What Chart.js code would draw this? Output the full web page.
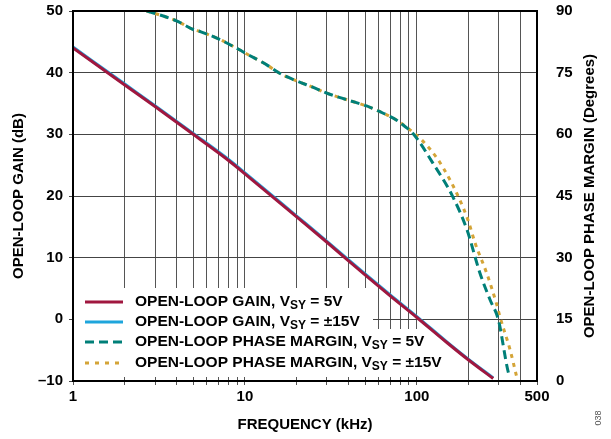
<!DOCTYPE html>
<html>
<head>
<meta charset="utf-8">
<script src="https://cdn.jsdelivr.net/npm/chart.js"></script>
<style>
  html, body { margin: 0; padding: 0; background: #fff; }
  #wrap { width: 611px; height: 439px; }
</style>
</head>
<body>
<div id="wrap"><canvas id="chart" width="611" height="439"></canvas></div>
<script>
// ------------------------------------------------------------
// data (frequency in kHz)
// ------------------------------------------------------------
const gainFreq = [1, 2, 3, 5, 8, 10, 20, 30, 50, 70, 100, 150, 200, 278];
const gain5V   = [44, 38, 34.5, 30, 25.8, 23.6, 16.6, 12.5, 7.2, 3.8, 0.3, -3.8, -6.6, -9.6];
const gain15V  = [44.15, 38.15, 34.65, 30.15, 25.95, 23.75, 16.75, 12.65, 7.35, 3.95, 0.45, -3.7, -6.5, -9.5];

const phase5VFreq = [2.68, 3, 4, 5, 5.5, 7.2, 8.2, 9.35, 10, 13.4, 16, 20, 25, 30, 40, 51, 61, 76, 83, 95,
                     124, 162, 196, 233, 267, 298, 341, 349];
const phase5V     = [90, 89.4, 87.6, 85.5, 85, 83, 81.8, 80.5, 79.8, 76.9, 74.8, 73, 71.4, 70, 68.3, 66.9, 65.5, 63.5, 62.3, 60.2,
                     53, 44.8, 36.7, 26.2, 19.7, 14.9, 2.0, 1.0];
const phase15VFreq = [2.68, 3, 4, 5, 5.5, 7.2, 8.2, 9.35, 10, 13.4, 16, 20, 25, 30, 40, 51, 61, 76, 83, 95,
                      107, 131, 156, 178, 199, 218, 255, 292, 305, 349, 381];
const phase15V     = [90, 89.4, 87.6, 85.5, 85, 83, 81.8, 80.5, 79.8, 76.9, 74.8, 73, 71.4, 70, 68.3, 66.9, 65.5, 63.5, 62.4, 60.5,
                      58.6, 54.2, 48.9, 44, 39, 33.6, 26.2, 18.5, 15.5, 7.5, 1.0];

const xTickValues = [1, 2, 3, 4, 5, 6, 7, 8, 9, 10, 20, 30, 40, 50, 60, 70, 80, 90, 100, 200, 300, 400, 500];
const xTickLabels = { 1: '1', 10: '10', 100: '100', 500: '500' };
const legendLabels = [
    ['OPEN-LOOP GAIN, V', 'SY', ' = 5V'],
    ['OPEN-LOOP GAIN, V', 'SY', ' = \u00b115V'],
    ['OPEN-LOOP PHASE MARGIN, V', 'SY', ' = 5V'],
    ['OPEN-LOOP PHASE MARGIN, V', 'SY', ' = \u00b115V']
];

const RED = '#a0173f';
const BLUE = '#1ea5dc';
const TEAL = '#007f78';
const GOLD = '#d4a437';
const FONT = "'Liberation Sans', Arial, sans-serif";

const pts = (xs, ys) => xs.map((x, i) => ({ x: x, y: ys[i] }));
const noVPad = scale => { scale.paddingTop = 0; scale.paddingBottom = 0; };

// white area behind the legend, then the legend itself
const legendPlugin = {
    id: 'legendBox',
    beforeDatasetsDraw(chart) {
        const { ctx, chartArea: a } = chart;
        ctx.save();
        ctx.fillStyle = '#fff';
        ctx.fillRect(a.left + 1, 288, 372 - a.left, a.bottom - 288 - 4);
        ctx.fillRect(a.left + 1, 329, 445 - a.left, a.bottom - 329 - 4);
        ctx.restore();
    },
    afterDraw(chart) {
        const { ctx, chartArea: a } = chart;
        const styles = [
            { color: RED, dash: [] },
            { color: BLUE, dash: [] },
            { color: TEAL, dash: [9, 5] },
            { color: GOLD, dash: [4, 6] }
        ];
        const rowY = [302, 322, 342, 363];
        ctx.save();
        // frame of plot area
        ctx.strokeStyle = '#000';
        ctx.lineWidth = 2;
        ctx.strokeRect(a.left, a.top, a.right - a.left, a.bottom - a.top);

        legendLabels.forEach((parts, i) => {
            const y = rowY[i];
            ctx.setLineDash(styles[i].dash);
            ctx.strokeStyle = styles[i].color;
            ctx.lineWidth = 3;
            ctx.beginPath();
            ctx.moveTo(85, y);
            ctx.lineTo(123, y);
            ctx.stroke();
            ctx.setLineDash([]);

            ctx.fillStyle = '#000';
            ctx.textBaseline = 'middle';
            ctx.textAlign = 'left';
            let x = 135;
            ctx.font = 'bold 15.5px ' + FONT;
            ctx.fillText(parts[0], x, y);
            x += ctx.measureText(parts[0]).width;
            ctx.font = 'bold 12px ' + FONT;
            ctx.fillText(parts[1], x, y + 4);
            x += ctx.measureText(parts[1]).width;
            ctx.font = 'bold 15.5px ' + FONT;
            ctx.fillText(parts[2], x, y);
        });

        // right axis title, reading bottom to top
        ctx.font = 'bold 15px ' + FONT;
        ctx.textAlign = 'center';
        ctx.textBaseline = 'middle';
        ctx.translate(590, (a.top + a.bottom) / 2);
        ctx.rotate(-Math.PI / 2);
        ctx.fillText('OPEN-LOOP PHASE MARGIN (Degrees)', 0, 0);
        ctx.restore();

        ctx.save();
        ctx.font = '9px ' + FONT;
        ctx.fillStyle = '#555';
        ctx.textAlign = 'center';
        ctx.textBaseline = 'middle';
        ctx.translate(599, 418);
        ctx.rotate(-Math.PI / 2);
        ctx.fillText('038', 0, 0);
        ctx.restore();
    }
};

new Chart(document.getElementById('chart'), {
    type: 'line',
    data: {
        datasets: [
            {
                label: 'OPEN-LOOP GAIN, VSY = 5V',
                data: pts(gainFreq, gain5V),
                yAxisID: 'y',
                borderColor: RED, borderWidth: 3, pointRadius: 0, cubicInterpolationMode: 'monotone'
            },
            {
                label: 'OPEN-LOOP GAIN, VSY = ±15V',
                data: pts(gainFreq, gain15V),
                yAxisID: 'y',
                borderColor: BLUE, borderWidth: 3, pointRadius: 0, cubicInterpolationMode: 'monotone'
            },
            {
                label: 'OPEN-LOOP PHASE MARGIN, VSY = 5V',
                data: pts(phase5VFreq, phase5V),
                yAxisID: 'y1',
                borderColor: TEAL, borderWidth: 3, borderDash: [9, 5], pointRadius: 0, cubicInterpolationMode: 'monotone'
            },
            {
                label: 'OPEN-LOOP PHASE MARGIN, VSY = ±15V',
                data: pts(phase15VFreq, phase15V),
                yAxisID: 'y1',
                borderColor: GOLD, borderWidth: 3, borderDash: [4, 5], pointRadius: 0, cubicInterpolationMode: 'monotone'
            }
        ]
    },
    options: {
        responsive: false,
        animation: false,
        layout: { padding: { top: 11, left: 0, right: 0, bottom: 0 } },
        plugins: {
            legend: { display: false },
            tooltip: { enabled: false }
        },
        scales: {
            x: {
                type: 'logarithmic',
                min: 1, max: 500,
                afterBuildTicks: scale => { scale.ticks = xTickValues.map(v => ({ value: v })); },
                afterFit: scale => { scale.height = 58; },
                ticks: {
                    autoSkip: false, maxRotation: 0, padding: 3, color: '#000',
                    font: { family: FONT, size: 15, weight: 'bold' },
                    callback: v => xTickLabels[v] || ''
                },
                grid: {
                    color: '#555', lineWidth: 1, tickLength: 4,
                    drawTicks: true
                },
                border: { color: '#000', width: 2 },
                title: {
                    display: true, text: 'FREQUENCY (kHz)', color: '#000',
                    font: { family: FONT, size: 15, weight: 'bold' },
                    padding: { top: 0, bottom: 5 }
                }
            },
            y: {
                position: 'left',
                min: -10, max: 50,
                afterFit: scale => { scale.width = 73; noVPad(scale); },
                ticks: {
                    stepSize: 10, padding: 6, color: '#000',
                    font: { family: FONT, size: 15, weight: 'bold' },
                    callback: v => v < 0 ? '\u2013' + Math.abs(v) : String(v)
                },
                grid: { color: '#444', lineWidth: 1, tickLength: 4 },
                border: { color: '#000', width: 2 },
                title: {
                    display: true, text: 'OPEN-LOOP GAIN (dB)', color: '#000',
                    font: { family: FONT, size: 15, weight: 'bold' },
                    padding: { top: 10, bottom: 0 }
                }
            },
            y1: {
                position: 'right',
                min: 0, max: 90,
                afterFit: scale => { scale.width = 74; noVPad(scale); },
                ticks: {
                    stepSize: 15, padding: 11, color: '#000',
                    font: { family: FONT, size: 15, weight: 'bold' }
                },
                grid: { display: false },
                border: { color: '#000', width: 2 }
            }
        }
    },
    plugins: [legendPlugin]
});
</script>
</body>
</html>
